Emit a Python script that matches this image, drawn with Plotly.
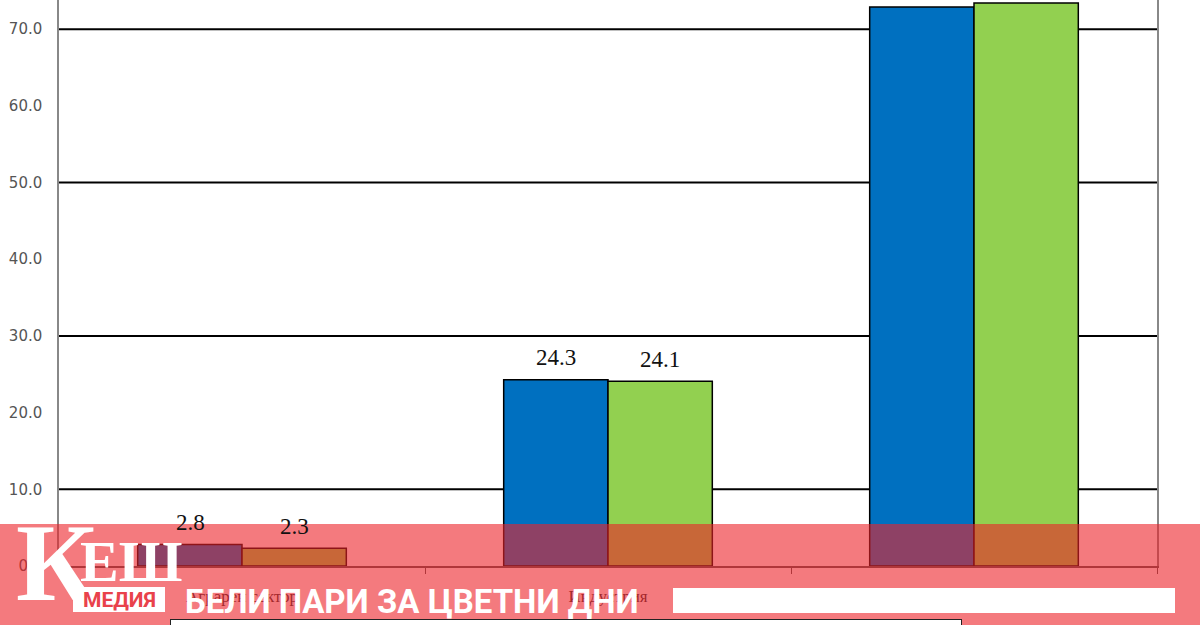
import plotly.graph_objects as go

# economy structure, share of GDP (%)
sectors = ["Аграрен сектор", "Индустрия", "Услуги"]
series_names = ["2009", "2010"]
values_a = [2.8, 24.3, 72.9]
values_b = [2.3, 24.1, 73.4]
labels_a = ["2.8", "24.3", None]   # the last labels sit above the cropped top
labels_b = ["2.3", "24.1", None]
y_ticks = [0, 10, 20, 30, 40, 50, 60, 70]
grid_lines = [10, 30, 50, 70]

W, H = 1200, 625
L, R, T, B = 59, 43, 0, 59
PW, PH = W - L - R, H - T - B


def px_x(x):
    return (x - L) / PW


def px_y(y):
    return (H - B - y) / PH


fig = go.Figure()
fig.add_trace(go.Bar(x=sectors, y=values_a, name=series_names[0],
                     marker=dict(color="#0070C0", line=dict(color="black", width=1.5))))
fig.add_trace(go.Bar(x=sectors, y=values_b, name=series_names[1],
                     marker=dict(color="#92D050", line=dict(color="black", width=1.5))))

# value labels above the bars (left bar / right bar of each group)
for shift, vals, labs in [(-52, values_a, labels_a), (52, values_b, labels_b)]:
    for s, v, t in zip(sectors, vals, labs):
        if t:
            fig.add_annotation(x=s, y=v, text=t, showarrow=False, xshift=shift, yshift=22,
                               font=dict(family="Liberation Serif", size=23, color="#111"))

for g in grid_lines:
    fig.add_hline(y=g, line=dict(color="black", width=2), layer="below")

fig.update_layout(
    width=W, height=H,
    margin=dict(l=L, r=R, t=T, b=B, autoexpand=False),
    paper_bgcolor="white", plot_bgcolor="white",
    barmode="group", bargap=0.43, bargroupgap=0,
    showlegend=True,
    legend=dict(orientation="h", x=px_x(170), y=px_y(619), xanchor="left", yanchor="top",
                bordercolor="#222", borderwidth=1, entrywidth=350,
                font=dict(family="Liberation Serif", size=15)),
    font=dict(family="Liberation Serif", color="#333"),
)
fig.update_yaxes(range=[0, 73.8], tickvals=y_ticks, tickformat=".1f",
                 showgrid=False, zeroline=False,
                 showline=True, linecolor="#888", linewidth=1.5, mirror=True,
                 ticks="outside", ticklen=12, tickcolor="rgba(0,0,0,0)",
                 tickfont=dict(family="DejaVu Sans", size=15, color="#555"))
fig.update_xaxes(showgrid=False, showline=True, linecolor="#555", linewidth=1.5,
                 ticks="outside", tickson="boundaries", ticklen=6, tickcolor="#555",
                 ticklabelstandoff=14,
                 tickfont=dict(size=17, color="#333"))

# news banner over the bottom of the picture
fig.add_shape(type="rect", xref="paper", yref="paper", layer="above",
              x0=px_x(0), x1=px_x(W), y0=px_y(H), y1=px_y(524),
              fillcolor="rgba(237,33,40,0.6)", line=dict(width=0))
fig.add_shape(type="rect", xref="paper", yref="paper", layer="above",
              x0=px_x(673), x1=px_x(1175), y0=px_y(613), y1=px_y(588),
              fillcolor="white", line=dict(width=0))
fig.add_shape(type="rect", xref="paper", yref="paper", layer="above",
              x0=px_x(73), x1=px_x(165), y0=px_y(612), y1=px_y(587),
              fillcolor="white", line=dict(width=0))

fig.add_annotation(xref="paper", yref="paper", x=px_x(14), y=px_y(626),
                   xanchor="left", yanchor="bottom", showarrow=False,
                   text="<b>К</b>", font=dict(family="Liberation Serif", size=110, color="white"))
fig.add_annotation(xref="paper", yref="paper", x=px_x(78), y=px_y(596),
                   xanchor="left", yanchor="bottom", showarrow=False,
                   text="<b>ЕШ</b>", font=dict(family="Liberation Serif", size=58, color="white"))
fig.add_annotation(xref="paper", yref="paper", x=px_x(119), y=px_y(600),
                   xanchor="center", yanchor="middle", showarrow=False,
                   text="<b>МЕДИЯ</b>", font=dict(family="Roboto", size=21, color="#E9424B"))
fig.add_annotation(xref="paper", yref="paper", x=px_x(183), y=px_y(601),
                   xanchor="left", yanchor="middle", showarrow=False,
                   text="<b>БЕЛИ ПАРИ ЗА ЦВЕТНИ ДНИ</b>",
                   font=dict(family="Roboto", size=33, color="white"))

fig.write_html("out.html", config={"displayModeBar": False},
               post_script="document.body.style.margin='0';")
